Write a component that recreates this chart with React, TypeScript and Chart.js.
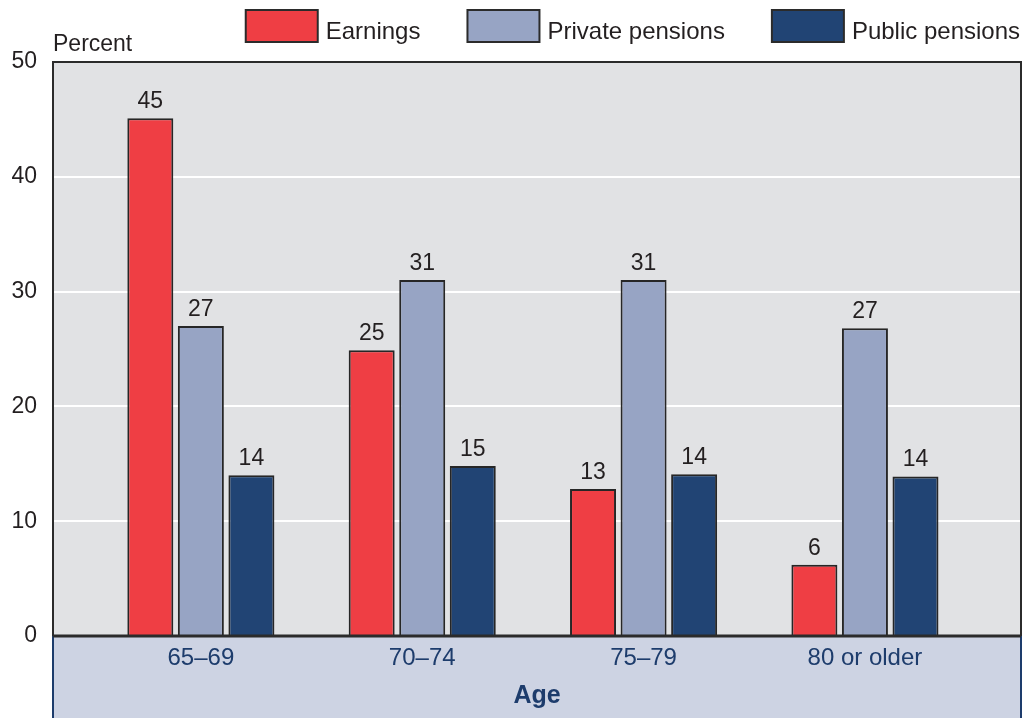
import React, { useEffect, useRef } from 'react';
import { Chart, registerables } from 'chart.js';

Chart.register(...registerables);

const categories = ['65–69', '70–74', '75–79', '80 or older'];
const seriesNames = ['Earnings', 'Private pensions', 'Public pensions'];
const earnings = [45.1, 24.9, 12.8, 6.2];
const privatePensions = [27.0, 31.0, 31.0, 26.8];
const publicPensions = [14.0, 14.8, 14.1, 13.9];
const yTickMin = 0;
const yTickMax = 50;
const yTickStep = 10;
const yTitle = 'Percent';
const xTitle = 'Age';

const seriesColors = ['#EF3E44', '#97A4C4', '#214474'];
const FONT = '"Liberation Sans", Arial, Helvetica, sans-serif';
const TEXT = '#231F20';
const BLUE_TEXT = '#1D3C6C';

const decorPlugin = {
  id: 'decor',
  beforeDraw(chart: any) {
    const { ctx, chartArea } = chart;
    const { left, right, top, bottom } = chartArea;
    ctx.save();
    ctx.fillStyle = '#E1E2E4';
    ctx.fillRect(left, top, right - left, bottom - top);
    ctx.fillStyle = '#CDD3E3';
    ctx.fillRect(left, bottom, right - left, chart.height - bottom);
    ctx.restore();
  },
  afterDatasetsDraw(chart: any) {
    const { ctx, chartArea } = chart;
    const { left, right, top, bottom } = chartArea;
    ctx.save();
    // frame of plot
    ctx.strokeStyle = '#2B2B2B';
    ctx.lineWidth = 2;
    ctx.beginPath();
    ctx.moveTo(left, bottom);
    ctx.lineTo(left, top);
    ctx.lineTo(right, top);
    ctx.lineTo(right, bottom);
    ctx.stroke();
    // lower band borders
    ctx.strokeStyle = '#1D3C6C';
    ctx.lineWidth = 2;
    ctx.beginPath();
    ctx.moveTo(left, bottom);
    ctx.lineTo(left, chart.height);
    ctx.moveTo(right, bottom);
    ctx.lineTo(right, chart.height);
    ctx.stroke();
    // axis line
    ctx.strokeStyle = '#2B2B2B';
    ctx.lineWidth = 3;
    ctx.beginPath();
    ctx.moveTo(left, bottom);
    ctx.lineTo(right, bottom);
    ctx.stroke();

    // value labels
    ctx.fillStyle = TEXT;
    ctx.font = `23px ${FONT}`;
    ctx.textAlign = 'center';
    ctx.textBaseline = 'alphabetic';
    chart.data.datasets.forEach((ds: any, di: number) => {
      const meta = chart.getDatasetMeta(di);
      meta.data.forEach((el: any, i: number) => {
        const v = ds.data[i].y;
        ctx.fillText(String(Math.round(v)), el.x, el.y - 10);
      });
    });

    // y title
    ctx.textAlign = 'left';
    ctx.font = `23px ${FONT}`;
    ctx.fillText(yTitle, left, 51);

    // x title
    ctx.fillStyle = BLUE_TEXT;
    ctx.textAlign = 'center';
    ctx.font = `bold 25px ${FONT}`;
    ctx.fillText(xTitle, (left + right) / 2, 703);

    // legend
    ctx.font = `24px ${FONT}`;
    const boxW = 72;
    const boxH = 32;
    const gapText = 8;
    const gapItem = 47;
    const items = chart.data.datasets.map((ds: any) => ({
      label: ds.label,
      color: ds.backgroundColor,
      w: ctx.measureText(ds.label).width,
    }));
    let total = 0;
    items.forEach((it: any, i: number) => {
      total += boxW + gapText + it.w + (i < items.length - 1 ? gapItem : 0);
    });
    let x = 1020 - total;
    items.forEach((it: any) => {
      ctx.fillStyle = it.color;
      ctx.fillRect(x, 10, boxW, boxH);
      ctx.strokeStyle = '#2B2B2B';
      ctx.lineWidth = 2;
      ctx.strokeRect(x, 10, boxW, boxH);
      ctx.fillStyle = TEXT;
      ctx.textAlign = 'left';
      ctx.fillText(it.label, x + boxW + gapText, 39);
      x += boxW + gapText + it.w + gapItem;
    });
    ctx.restore();
  },
};

export default function App() {
  const ref = useRef<HTMLCanvasElement>(null);
  useEffect(() => {
    if (!ref.current) return;
    const series = [earnings, privatePensions, publicPensions];
    const chart = new Chart(ref.current, {
      type: 'bar',
      data: {
        datasets: seriesNames.map((name, si) => ({
          label: name,
          data: series[si].map((v, i) => ({ x: i, y: v })),
          backgroundColor: seriesColors[si],
          borderColor: '#262626',
          borderWidth: 2,
          categoryPercentage: 0.685,
          barPercentage: 0.91,
        })),
      },
      options: {
        animation: false,
        responsive: false,
        maintainAspectRatio: false,
        layout: { padding: { top: 62, right: 3, left: 0, bottom: 0 } },
        plugins: { legend: { display: false }, tooltip: { enabled: false } },
        scales: {
          x: {
            type: 'linear',
            offset: false,
            min: -0.668,
            max: 3.705,
            afterBuildTicks: (s: any) => {
              s.ticks = categories.map((_, i) => ({ value: i }));
            },
            afterFit: (s: any) => {
              s.height = 82;
            },
            ticks: {
              callback: (v: any) => categories[v] ?? '',
              font: { family: FONT, size: 24 },
              color: BLUE_TEXT,
              padding: 0,
              autoSkip: false,
              maxRotation: 0,
            },
            grid: { display: false, offset: false },
            border: { display: false },
          },
          y: {
            min: yTickMin,
            max: yTickMax,
            afterFit: (s: any) => {
              s.width = 53;
            },
            ticks: {
              stepSize: yTickStep,
              font: { family: FONT, size: 23 },
              color: TEXT,
              padding: 16,
            },
            grid: { color: '#FFFFFF', lineWidth: 2, drawTicks: false },
            border: { display: false },
          },
        },
      },
      plugins: [decorPlugin],
    } as any);
    return () => chart.destroy();
  }, []);
  return (
    <div style={{ position: 'fixed', left: 0, top: 0, width: 1024, height: 718, background: '#fff' }}>
      <canvas ref={ref} width={1024} height={718} style={{ width: 1024, height: 718 }} />
    </div>
  );
}
